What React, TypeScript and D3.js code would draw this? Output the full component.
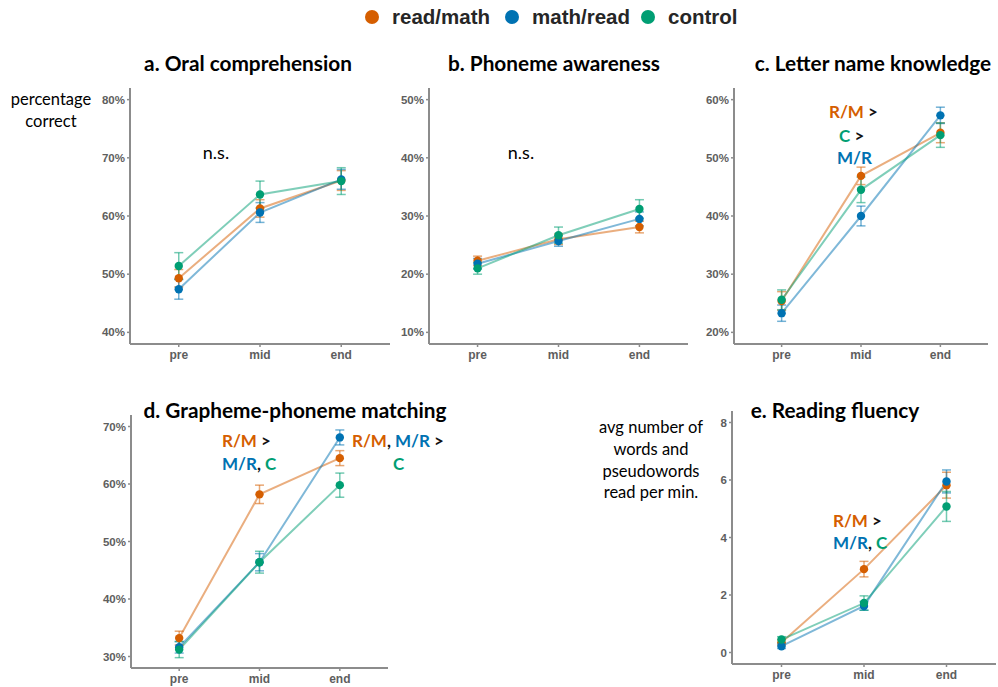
import * as d3 from "d3";

const timepoints = ["pre", "mid", "end"];
const groups = ["read/math", "math/read", "control"];
const groupColors = ["#D55E00", "#0072B2", "#009E73"];

// panel a: oral comprehension (%)
const oralMeans = [
  [49.3, 61.3, 66.1],
  [47.4, 60.6, 66.3],
  [51.4, 63.7, 66.0],
];
const oralErr = [
  [1.5, 1.5, 1.7],
  [1.7, 1.7, 1.7],
  [2.3, 2.3, 2.3],
];
// panel b: phoneme awareness (%)
const phonMeans = [
  [22.3, 26.0, 28.1],
  [21.8, 25.7, 29.5],
  [21.0, 26.7, 31.2],
];
const phonErr = [
  [0.8, 0.9, 1.0],
  [0.9, 0.9, 1.2],
  [1.0, 1.4, 1.6],
];
// panel c: letter name knowledge (%)
const letterMeans = [
  [25.4, 46.9, 54.3],
  [23.3, 40.0, 57.3],
  [25.6, 44.5, 53.9],
];
const letterErr = [
  [1.6, 1.5, 1.7],
  [1.4, 1.7, 1.4],
  [1.7, 2.2, 2.1],
];
// panel d: grapheme-phoneme matching (%)
const graphMeans = [
  [33.2, 58.2, 64.5],
  [31.6, 46.4, 68.1],
  [31.2, 46.4, 59.8],
];
const graphErr = [
  [1.2, 1.6, 1.3],
  [1.0, 1.5, 1.3],
  [1.4, 1.9, 2.1],
];
// panel e: reading fluency (words per min.)
const fluMeans = [
  [0.35, 2.9, 5.82],
  [0.22, 1.62, 5.95],
  [0.45, 1.72, 5.08],
];
const fluErr = [
  [0.1, 0.27, 0.45],
  [0.08, 0.15, 0.4],
  [0.1, 0.25, 0.52],
];

const pctTicks = {
  a: [40, 50, 60, 70, 80],
  b: [10, 20, 30, 40, 50],
  c: [20, 30, 40, 50, 60],
  d: [30, 40, 50, 60, 70],
};
const fluTicks = [0, 2, 4, 6, 8];

type Ann = { x: number; y: number; parts: [string, string][]; anchor?: string };

type Panel = {
  title: string;
  tx: number;
  ty: number;
  x0: number;
  x1: number;
  y0: number;
  y1: number;
  domain: [number, number];
  ticks: number[];
  fmt: (v: number) => string;
  means: number[][];
  err: number[][];
  notes: Ann[];
};

const K = "#111";
const [OR, BL, GR] = groupColors;

const pct = (v: number) => `${v}%`;

const panels: Panel[] = [
  {
    title: "a. Oral comprehension",
    tx: 248, ty: 71,
    x0: 130, x1: 390, y0: 88, y1: 344,
    domain: [38, 82], ticks: pctTicks.a, fmt: pct,
    means: oralMeans, err: oralErr,
    notes: [{ x: 216, y: 159, parts: [["n.s.", "plain"]] }],
  },
  {
    title: "b. Phoneme awareness",
    tx: 554, ty: 71,
    x0: 429, x1: 688, y0: 88, y1: 344,
    domain: [8, 52], ticks: pctTicks.b, fmt: pct,
    means: phonMeans, err: phonErr,
    notes: [{ x: 521, y: 159, parts: [["n.s.", "plain"]] }],
  },
  {
    title: "c. Letter name knowledge",
    tx: 873, ty: 71,
    x0: 734, x1: 988, y0: 88, y1: 344,
    domain: [18, 62], ticks: pctTicks.c, fmt: pct,
    means: letterMeans, err: letterErr,
    notes: [
      { x: 829, y: 118, anchor: "start", parts: [["R/M", OR], [" >", K]] },
      { x: 839, y: 142, anchor: "start", parts: [["C", GR], [" >", K]] },
      { x: 837, y: 164, anchor: "start", parts: [["M/R", BL]] },
    ],
  },
  {
    title: "d. Grapheme-phoneme matching",
    tx: 295, ty: 418,
    x0: 131, x1: 388, y0: 415, y1: 668,
    domain: [28, 72], ticks: pctTicks.d, fmt: pct,
    means: graphMeans, err: graphErr,
    notes: [
      { x: 222, y: 447, anchor: "start", parts: [["R/M", OR], [" >", K]] },
      { x: 222, y: 470, anchor: "start", parts: [["M/R", BL], [", ", K], ["C", GR]] },
      { x: 352, y: 447, anchor: "start", parts: [["R/M", OR], [", ", K], ["M/R", BL], [" >", K]] },
      { x: 393, y: 470, anchor: "start", parts: [["C", GR]] },
    ],
  },
  {
    title: "e. Reading fluency",
    tx: 835, ty: 418,
    x0: 732, x1: 996, y0: 411, y1: 664,
    domain: [-0.4, 8.4], ticks: fluTicks, fmt: (v) => `${v}`,
    means: fluMeans, err: fluErr,
    notes: [
      { x: 833, y: 527, anchor: "start", parts: [["R/M", OR], [" >", K]] },
      { x: 833, y: 549, anchor: "start", parts: [["M/R", BL], [", ", K], ["C", GR]] },
    ],
  },
];

const AXIS = "#8c8c8c";
const TICK_TXT = "#5e5e5e";

function PanelView({ p }: { p: Panel }) {
  const x = d3
    .scalePoint<string>()
    .domain(timepoints)
    .range([p.x0, p.x1])
    .padding(0.6);
  const y = d3.scaleLinear().domain(p.domain).range([p.y1, p.y0]);
  const line = d3
    .line<number>()
    .x((_, i) => x(timepoints[i]) as number)
    .y((d) => y(d));
  const cap = 4.5;
  return (
    <g>
      <text
        x={p.tx}
        y={p.ty}
        textAnchor="middle"
        fontFamily="Lato, 'Open Sans', sans-serif"
        fontWeight={700}
        fontSize={20.8}
        fill="#000"
      >
        {p.title}
      </text>
      {/* axes */}
      <line x1={p.x0} x2={p.x0} y1={p.y0} y2={p.y1} stroke={AXIS} strokeWidth={2} />
      <line x1={p.x0} x2={p.x1} y1={p.y1} y2={p.y1} stroke={AXIS} strokeWidth={2} />
      {p.ticks.map((t) => (
        <g key={t}>
          <line x1={p.x0 - 3} x2={p.x0} y1={y(t)} y2={y(t)} stroke={AXIS} strokeWidth={1.5} />
          <text
            x={p.x0 - 5}
            y={y(t)}
            dy="0.35em"
            textAnchor="end"
            fontFamily="'Liberation Sans', Arial, sans-serif"
            fontWeight={700}
            fontSize={11.5}
            fill={TICK_TXT}
          >
            {p.fmt(t)}
          </text>
        </g>
      ))}
      {timepoints.map((t) => (
        <g key={t}>
          <line x1={x(t)} x2={x(t)} y1={p.y1} y2={p.y1 + 3} stroke={AXIS} strokeWidth={1.5} />
          <text
            x={x(t)}
            y={p.y1 + 15}
            textAnchor="middle"
            fontFamily="'Liberation Sans', Arial, sans-serif"
            fontWeight={700}
            fontSize={12}
            fill={TICK_TXT}
          >
            {t}
          </text>
        </g>
      ))}
      {/* lines */}
      {p.means.map((m, gi) => (
        <path
          key={gi}
          d={line(m) as string}
          fill="none"
          stroke={groupColors[gi]}
          strokeOpacity={0.5}
          strokeWidth={2}
        />
      ))}
      {/* error bars */}
      {p.means.map((m, gi) =>
        m.map((v, ti) => {
          const cx = x(timepoints[ti]) as number;
          const lo = y(v - p.err[gi][ti]);
          const hi = y(v + p.err[gi][ti]);
          return (
            <g
              key={`${gi}-${ti}`}
              stroke={groupColors[gi]}
              strokeOpacity={0.55}
              strokeWidth={1.5}
            >
              <line x1={cx} x2={cx} y1={lo} y2={hi} />
              <line x1={cx - cap} x2={cx + cap} y1={lo} y2={lo} />
              <line x1={cx - cap} x2={cx + cap} y1={hi} y2={hi} />
            </g>
          );
        })
      )}
      {/* points */}
      {p.means.map((m, gi) =>
        m.map((v, ti) => (
          <circle
            key={`${gi}-${ti}`}
            cx={x(timepoints[ti]) as number}
            cy={y(v)}
            r={4.2}
            fill={groupColors[gi]}
          />
        ))
      )}
      {p.notes.map((n, i) => (
        <text
          key={i}
          x={n.x}
          y={n.y}
          textAnchor={n.anchor ?? "middle"}
          fontFamily="Lato, 'Open Sans', sans-serif"
          fontSize={n.parts[0][1] === "plain" ? 18 : 17}
          fontWeight={n.parts[0][1] === "plain" ? 400 : 700}
        >
          {n.parts.map(([s, c], j) => (
            <tspan key={j} fill={c === "plain" ? "#000" : c}>
              {s}
            </tspan>
          ))}
        </text>
      ))}
    </g>
  );
}

const legendX = [372, 512, 648];

export default function App() {
  return (
    <svg
      width={998}
      height={687}
      style={{ position: "absolute", left: 0, top: 0, background: "#fff" }}
    >
      <rect width={998} height={687} fill="#fff" />
      {groups.map((g, i) => (
        <g key={g}>
          <circle cx={legendX[i]} cy={17} r={7} fill={groupColors[i]} />
          <text
            x={legendX[i] + 20}
            y={17}
            dy="0.35em"
            fontFamily="'Liberation Sans', Arial, sans-serif"
            fontWeight={700}
            fontSize={20.5}
            fill="#262626"
          >
            {g}
          </text>
        </g>
      ))}
      <text
        fontFamily="Lato, 'Open Sans', sans-serif"
        fontSize={16.5}
        textAnchor="middle"
        fill="#000"
      >
        <tspan x={51} y={105}>percentage</tspan>
        <tspan x={51} y={127}>correct</tspan>
      </text>
      <text
        fontFamily="Lato, 'Open Sans', sans-serif"
        fontSize={16.5}
        textAnchor="middle"
        fill="#000"
      >
        <tspan x={651} y={433}>avg number of</tspan>
        <tspan x={651} y={455}>words and</tspan>
        <tspan x={651} y={477}>pseudowords</tspan>
        <tspan x={651} y={498}>read per min.</tspan>
      </text>
      {panels.map((p) => (
        <PanelView key={p.title} p={p} />
      ))}
    </svg>
  );
}
